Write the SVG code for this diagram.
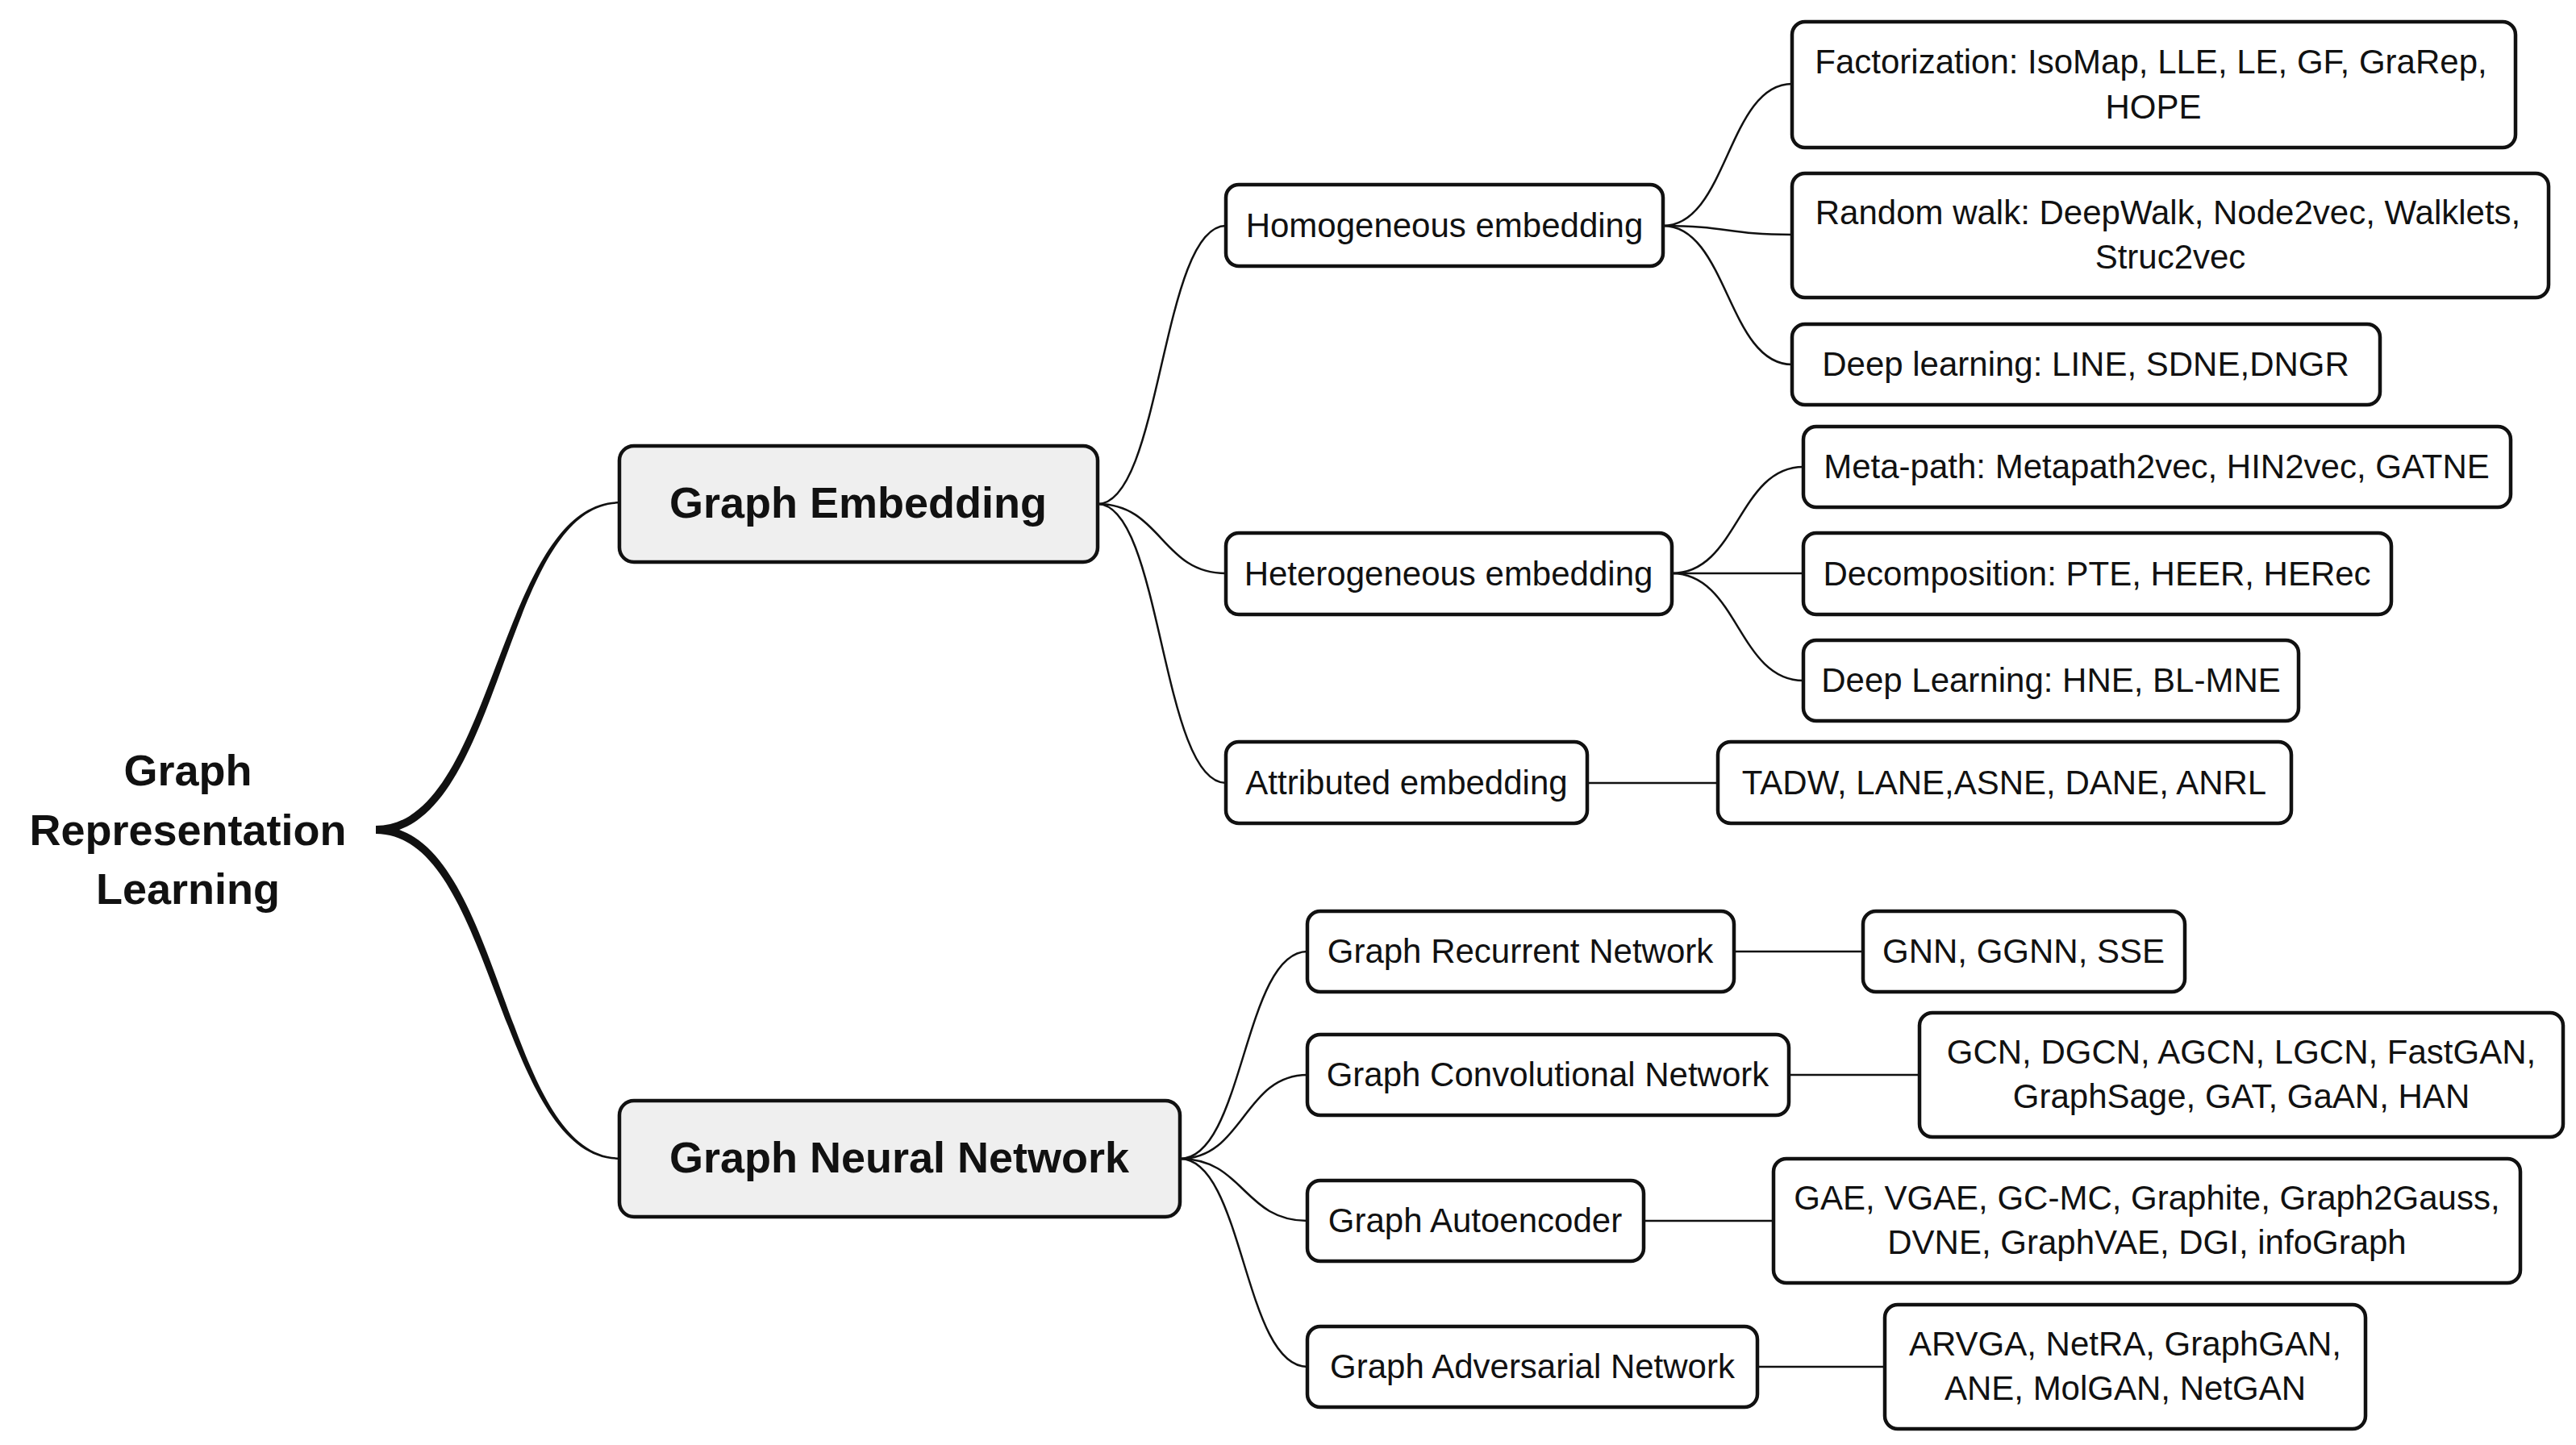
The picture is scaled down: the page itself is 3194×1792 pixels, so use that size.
<svg xmlns="http://www.w3.org/2000/svg" width="3194" height="1792" viewBox="0 0 3194 1792">
<style>
.box{fill:#ffffff;stroke:#111;stroke-width:4.5}
.main{fill:#efefef;stroke:#111;stroke-width:4.5}
.t{font-family:"Liberation Sans",Arial,sans-serif;font-size:42px;fill:#111;text-anchor:middle}
.b{font-family:"Liberation Sans",Arial,sans-serif;font-size:54px;font-weight:bold;fill:#111;text-anchor:middle}
.c{fill:none;stroke:#111;stroke-width:2.5}
</style>
<rect width="3194" height="1792" fill="#ffffff"/>
<g id="connectors">
<path d="M466,1024 C614,1024 617,622 769,622 L769,624.5 C622,624.5 625,1034 466,1034 Z" fill="#111"/>
<path d="M466,1034 C614,1034 617,1438 769,1438 L769,1435.5 C622,1435.5 625,1024 466,1024 Z" fill="#111"/>
<path class="c" d="M1361,625 C1440,625 1440,280 1520,280"/>
<path class="c" d="M1361,625 C1440,625 1440,711 1520,711"/>
<path class="c" d="M1361,625 C1440,625 1440,971 1520,971"/>
<path class="c" d="M2062,280 C2142,280 2142,104 2222,104"/>
<path class="c" d="M2062,280 C2142,280 2142,291 2222,291"/>
<path class="c" d="M2062,280 C2142,280 2142,452 2222,452"/>
<path class="c" d="M2073,711 C2155,711 2155,579 2236,579"/>
<path class="c" d="M2073,711 L2236,711"/>
<path class="c" d="M2073,711 C2155,711 2155,844 2236,844"/>
<path class="c" d="M1968,971 L2130,971"/>
<path class="c" d="M1463,1437 C1542,1437 1542,1180 1621,1180"/>
<path class="c" d="M1463,1437 C1542,1437 1542,1333 1621,1333"/>
<path class="c" d="M1463,1437 C1542,1437 1542,1514 1621,1514"/>
<path class="c" d="M1463,1437 C1542,1437 1542,1695 1621,1695"/>
<path class="c" d="M2150,1180 L2310,1180"/>
<path class="c" d="M2218,1333 L2380,1333"/>
<path class="c" d="M2038,1514 L2199,1514"/>
<path class="c" d="M2179,1695 L2337,1695"/>
</g>
<g id="root">
<text class="b" x="233" y="974">Graph</text>
<text class="b" x="233" y="1048">Representation</text>
<text class="b" x="233" y="1121">Learning</text>
</g>
<g id="graph-embedding">
<rect class="main" x="768" y="553" width="593" height="144" rx="18"/>
<text class="b" x="1064" y="642">Graph Embedding</text>
</g>
<g id="graph-neural-network">
<rect class="main" x="768" y="1365" width="695" height="144" rx="18"/>
<text class="b" x="1115" y="1454">Graph Neural Network</text>
</g>
<g id="homogeneous">
<rect class="box" x="1520" y="229" width="542" height="101" rx="16"/>
<text class="t" x="1791" y="294">Homogeneous embedding</text>
</g>
<g id="heterogeneous">
<rect class="box" x="1520" y="661" width="553" height="101" rx="16"/>
<text class="t" x="1796" y="726">Heterogeneous embedding</text>
</g>
<g id="attributed">
<rect class="box" x="1520" y="920" width="448" height="101" rx="16"/>
<text class="t" x="1744" y="985">Attributed embedding</text>
</g>
<g id="factorization">
<rect class="box" x="2222" y="27" width="897" height="156" rx="16"/>
<text class="t" x="2667" y="91">Factorization: IsoMap, LLE, LE, GF, GraRep,</text>
<text class="t" x="2670" y="147">HOPE</text>
</g>
<g id="random-walk">
<rect class="box" x="2222" y="215" width="938" height="154" rx="16"/>
<text class="t" x="2688" y="278">Random walk: DeepWalk, Node2vec, Walklets,</text>
<text class="t" x="2691" y="333">Struc2vec</text>
</g>
<g id="deep-learning-homo">
<rect class="box" x="2222" y="402" width="729" height="100" rx="16"/>
<text class="t" x="2586" y="466">Deep learning: LINE, SDNE,DNGR</text>
</g>
<g id="meta-path">
<rect class="box" x="2236" y="529" width="877" height="100" rx="16"/>
<text class="t" x="2674" y="593">Meta-path: Metapath2vec, HIN2vec, GATNE</text>
</g>
<g id="decomposition">
<rect class="box" x="2236" y="661" width="729" height="101" rx="16"/>
<text class="t" x="2600" y="726">Decomposition: PTE, HEER, HERec</text>
</g>
<g id="deep-learning-hetero">
<rect class="box" x="2236" y="794" width="614" height="100" rx="16"/>
<text class="t" x="2543" y="858">Deep Learning: HNE, BL-MNE</text>
</g>
<g id="attributed-methods">
<rect class="box" x="2130" y="920" width="711" height="101" rx="16"/>
<text class="t" x="2485" y="985">TADW, LANE,ASNE, DANE, ANRL</text>
</g>
<g id="grn">
<rect class="box" x="1621" y="1130" width="529" height="100" rx="16"/>
<text class="t" x="1885" y="1194">Graph Recurrent Network</text>
</g>
<g id="grn-methods">
<rect class="box" x="2310" y="1130" width="399" height="100" rx="16"/>
<text class="t" x="2509" y="1194">GNN, GGNN, SSE</text>
</g>
<g id="gcn">
<rect class="box" x="1621" y="1283" width="597" height="100" rx="16"/>
<text class="t" x="1919" y="1347">Graph Convolutional Network</text>
</g>
<g id="gcn-methods">
<rect class="box" x="2380" y="1256" width="798" height="154" rx="16"/>
<text class="t" x="2779" y="1319">GCN, DGCN, AGCN, LGCN, FastGAN,</text>
<text class="t" x="2779" y="1374">GraphSage, GAT, GaAN, HAN</text>
</g>
<g id="gae">
<rect class="box" x="1621" y="1464" width="417" height="100" rx="16"/>
<text class="t" x="1829" y="1528">Graph Autoencoder</text>
</g>
<g id="gae-methods">
<rect class="box" x="2199" y="1437" width="926" height="154" rx="16"/>
<text class="t" x="2662" y="1500">GAE, VGAE, GC-MC, Graphite, Graph2Gauss,</text>
<text class="t" x="2662" y="1555">DVNE, GraphVAE, DGI, infoGraph</text>
</g>
<g id="gan">
<rect class="box" x="1621" y="1645" width="558" height="100" rx="16"/>
<text class="t" x="1900" y="1709">Graph Adversarial Network</text>
</g>
<g id="gan-methods">
<rect class="box" x="2337" y="1618" width="596" height="154" rx="16"/>
<text class="t" x="2635" y="1681">ARVGA, NetRA, GraphGAN,</text>
<text class="t" x="2635" y="1736">ANE, MolGAN, NetGAN</text>
</g>
</svg>
